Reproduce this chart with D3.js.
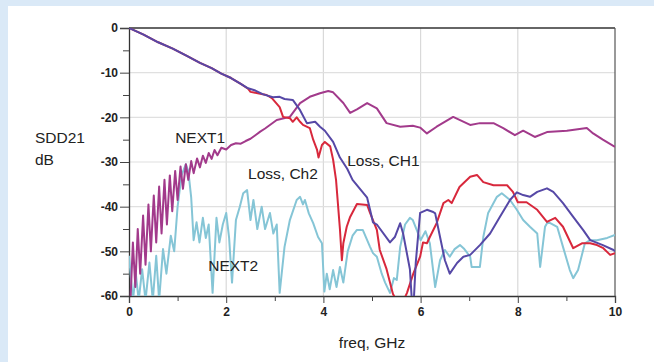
<!DOCTYPE html>
<html>
<head>
<meta charset="utf-8">
<script src="https://cdn.jsdelivr.net/npm/d3@7"></script>
<style>
  html, body { margin: 0; padding: 0; background: #dae9f7; }
  svg { display: block; font-family: "Liberation Sans", Arial, sans-serif; }
</style>
</head>
<body>
<svg id="chart" width="654" height="362"></svg>
<script>
// frequency (GHz), SDD21 (dB)
const lossCh1 = [
  [0, 0], [0.3, -1.5], [0.6, -3.2], [0.9, -4.6], [1.2, -6.3], [1.46, -7.8], [1.7, -9.0],
  [1.9, -10.2], [2.1, -11.2], [2.3, -12.5], [2.45, -13.5], [2.6, -14.0], [2.75, -14.8],
  [2.96, -15.5], [3.1, -15.4], [3.2, -15.9], [3.37, -16.1], [3.52, -18.4], [3.66, -21.3],
  [3.83, -21], [3.93, -22.1], [4.03, -23], [4.2, -25.5], [4.34, -29], [4.49, -31.5],
  [4.6, -34], [4.9, -38], [4.96, -40.7], [5.02, -43.5], [5.1, -44], [5.37, -48],
  [5.47, -46.8], [5.58, -43.7], [5.64, -46], [5.78, -54], [5.82, -61], [5.86, -61],
  [5.9, -52.6], [5.99, -41.4], [6.13, -40.7], [6.26, -41.2], [6.3, -41.5], [6.4, -46.8],
  [6.5, -52], [6.6, -55], [6.75, -52.6], [6.88, -51.2], [7.02, -50.8], [7.22, -48.6],
  [7.43, -46], [7.63, -42.3], [7.84, -38.5], [7.98, -36.8], [8.11, -37.4], [8.25, -37.8],
  [8.4, -36.7], [8.6, -35.9], [8.73, -36.7], [8.93, -39.2], [9.14, -42.3], [9.35, -45.3],
  [9.49, -47.5], [9.75, -48.6], [9.97, -49.7], [10, -50]
];

const lossCh2 = [
  [0, 0], [0.3, -1.5], [0.6, -3.2], [0.9, -4.6], [1.2, -6.3], [1.46, -7.8], [1.7, -9.0],
  [1.9, -10.2], [2.1, -11.2], [2.3, -12.5], [2.45, -13.6], [2.5, -14.3], [2.65, -14.6],
  [2.83, -15], [2.94, -15.7], [3.1, -17.7], [3.17, -19.9], [3.31, -20.2], [3.37, -21],
  [3.45, -20], [3.52, -21], [3.58, -21.7], [3.72, -22.4], [3.79, -25], [3.87, -27.3],
  [3.9, -29], [3.97, -26.2], [4.03, -25.5], [4.14, -26.5], [4.2, -29.5], [4.26, -34],
  [4.34, -45], [4.38, -52], [4.41, -48.2], [4.48, -44.5], [4.55, -42.3], [4.69, -39.4],
  [4.9, -39.6], [4.96, -41.4], [5.1, -45.2], [5.16, -49.7], [5.3, -54], [5.43, -59.5],
  [5.5, -61], [5.65, -61], [5.72, -59.3], [5.85, -55], [5.99, -51.2], [6.05, -48],
  [6.13, -48.2], [6.19, -46.8], [6.33, -43.7], [6.47, -39.2], [6.57, -38.5], [6.64, -39.2],
  [6.8, -35.6], [7.02, -33.3], [7.16, -32.9], [7.29, -34.5], [7.5, -35.2], [7.78, -35.2],
  [7.9, -36.7], [8.0, -39], [8.18, -39], [8.4, -40.7], [8.6, -43.4], [8.77, -42.5],
  [8.93, -44.5], [9.14, -49.3], [9.32, -48.2], [9.49, -48.2], [9.63, -48.6], [9.76, -49.3],
  [9.9, -50.8], [10, -50.4]
];

const next1 = [
  [0.03, -61], [0.08, -48], [0.13, -58], [0.18, -45], [0.23, -55], [0.29, -42], [0.34, -53],
  [0.40, -39.5], [0.45, -50], [0.51, -37.5], [0.56, -48], [0.62, -35.5], [0.67, -46],
  [0.73, -34], [0.78, -44], [0.84, -33], [0.89, -41], [0.95, -32], [1.0, -38.5], [1.06, -31],
  [1.11, -36], [1.17, -30.5], [1.22, -34], [1.28, -29.8], [1.33, -32.5], [1.40, -29.2],
  [1.46, -31.2], [1.52, -28.6], [1.58, -30.2], [1.64, -28], [1.70, -29.3], [1.76, -27.3],
  [1.82, -28.5], [1.9, -26.8], [2.0, -27.2], [2.1, -26.2], [2.2, -25.8], [2.3, -25.9],
  [2.4, -25.3], [2.5, -24.8], [2.6, -24], [2.7, -23.2], [2.8, -22.5], [3.04, -20.6],
  [3.31, -19.9], [3.52, -16.8], [3.72, -15.4], [3.93, -14.6], [4.1, -14.1], [4.2, -14.4],
  [4.41, -16.8], [4.55, -19], [4.69, -18.2], [4.9, -16.8], [5.1, -18], [5.3, -21.3],
  [5.58, -22.1], [5.84, -21.9], [5.99, -22.3], [6.13, -23.6], [6.33, -22.1], [6.67, -19.9],
  [7.02, -21.7], [7.22, -21.3], [7.5, -21.3], [7.7, -22.4], [7.94, -24], [8.11, -23],
  [8.35, -24.4], [8.6, -23.3], [9.01, -23], [9.42, -22.4], [9.55, -23.6], [9.75, -25],
  [10, -26.6]
];

const next2 = [
  [0.0, -51], [0.08, -61], [0.14, -55], [0.2, -61], [0.27, -54], [0.34, -61], [0.42, -52.5],
  [0.49, -61], [0.56, -51], [0.62, -61], [0.7, -49.5], [0.77, -55], [0.86, -46.5],
  [0.93, -50], [1.0, -40], [1.08, -33], [1.17, -30.5], [1.22, -32], [1.28, -38],
  [1.33, -47.5], [1.39, -43.5], [1.45, -48], [1.52, -42.5], [1.58, -47], [1.64, -44],
  [1.72, -59.3], [1.8, -42.5], [1.86, -48], [1.93, -44], [2.0, -41.4], [2.06, -47],
  [2.12, -57], [2.2, -43], [2.28, -40], [2.35, -37], [2.43, -36.3], [2.5, -43], [2.56, -38.5],
  [2.64, -45], [2.73, -40], [2.8, -45], [2.9, -41.4], [2.97, -46], [3.04, -44], [3.1, -59.3],
  [3.2, -49], [3.31, -43], [3.45, -38.5], [3.52, -37.8], [3.58, -39.5], [3.62, -38.5],
  [3.7, -41.5], [3.79, -43.7], [3.89, -46.8], [3.97, -48.2], [4.02, -59], [4.07, -55],
  [4.13, -58.5], [4.2, -54.2], [4.27, -58], [4.34, -53.5], [4.41, -57], [4.5, -50],
  [4.6, -46.5], [4.69, -45.2], [4.81, -45.2], [4.96, -49], [5.02, -50.4], [5.1, -51.2],
  [5.2, -55], [5.27, -57], [5.37, -59.3], [5.45, -56], [5.51, -56.4], [5.58, -49],
  [5.68, -44], [5.78, -42.5], [5.84, -43], [5.93, -45.5], [6.0, -47.5], [6.1, -45.5],
  [6.19, -48.2], [6.3, -58], [6.4, -52], [6.5, -49.7], [6.6, -51.2], [6.7, -49.5],
  [6.81, -48.6], [6.9, -49.5], [7.02, -51.2], [7.05, -53.5], [7.22, -53.5], [7.29, -46.8],
  [7.39, -41.4], [7.57, -37.8], [7.67, -37], [7.84, -38.5], [7.98, -40.7], [8.11, -43],
  [8.25, -44.5], [8.4, -46], [8.46, -53.5], [8.56, -44.5], [8.62, -43.4], [8.81, -44.5],
  [8.93, -49], [9.07, -54.2], [9.14, -56], [9.24, -54.2], [9.38, -48.2], [9.49, -47.5],
  [9.63, -47.5], [9.84, -47], [10, -46.3]
];

const series = [
  { name: 'NEXT2', data: next2, color: '#85c5d6' },
  { name: 'NEXT1', data: next1, color: '#a23a8b' },
  { name: 'Loss, Ch2', data: lossCh2, color: '#d8283c' },
  { name: 'Loss, CH1', data: lossCh1, color: '#5648a6' }
];

const xTicks = [0, 2, 4, 6, 8, 10];
const xMinorTicks = [1, 3, 5, 7, 9];
const yTicks = [0, -10, -20, -30, -40, -50, -60];
const yMinorTicks = [-5, -15, -25, -35, -45, -55];

const labels = [
  { text: 'NEXT1', f: 0.95, db: -25.7 },
  { text: 'Loss, Ch2', f: 2.45, db: -33.8 },
  { text: 'Loss, CH1', f: 4.49, db: -30.9 },
  { text: 'NEXT2', f: 1.63, db: -54.3 }
];

const svg = d3.select('#chart');
const margin = { left: 129, right: 39, top: 28, bottom: 66 };
const width = 654 - margin.left - margin.right;
const height = 362 - margin.top - margin.bottom;

// white panel
svg.append('rect')
  .attr('x', 8).attr('y', 6)
  .attr('width', 654 - 8).attr('height', 362 - 6)
  .attr('fill', '#ffffff');

const x = d3.scaleLinear().domain([0, 10]).range([0, width]);
const y = d3.scaleLinear().domain([-60, 0]).range([height, 0]);

const g = svg.append('g').attr('transform', `translate(${margin.left},${margin.top})`);

g.append('clipPath').attr('id', 'plot-clip')
  .append('rect').attr('width', width).attr('height', height);

// grid
g.append('g')
  .selectAll('line')
  .data(xTicks.slice(1, -1))
  .join('line')
  .attr('x1', d => x(d)).attr('x2', d => x(d))
  .attr('y1', 0).attr('y2', height)
  .attr('stroke', '#d9d9d9').attr('stroke-width', 1.2);

g.append('g')
  .selectAll('line')
  .data(yTicks.slice(1, -1))
  .join('line')
  .attr('x1', 0).attr('x2', width)
  .attr('y1', d => y(d)).attr('y2', d => y(d))
  .attr('stroke', '#e0e0e0').attr('stroke-width', 1.2);

// axes
const xAxis = g.append('g')
  .attr('transform', `translate(0,${height})`)
  .call(d3.axisBottom(x).tickValues(xTicks).tickSize(7).tickPadding(4).tickFormat(d3.format('d')));
g.append('g')
  .attr('transform', `translate(0,${height})`)
  .call(d3.axisBottom(x).tickValues(xMinorTicks).tickSize(5).tickFormat(''))
  .call(a => a.select('.domain').remove());

const yAxis = g.append('g')
  .call(d3.axisLeft(y).tickValues(yTicks).tickSize(9).tickPadding(2).tickFormat(d3.format('d')));
g.append('g')
  .call(d3.axisLeft(y).tickValues(yMinorTicks).tickSize(6).tickFormat(''))
  .call(a => a.select('.domain').remove());

svg.selectAll('.tick line').attr('stroke', '#444');
svg.selectAll('.domain').attr('stroke', '#333').attr('stroke-width', 1.3);
[xAxis, yAxis].forEach(a => a.selectAll('text')
  .attr('fill', '#222')
  .style('font-size', '12px')
  .style('font-weight', 'bold'));
yAxis.selectAll('text').text(d => d === 0 ? '0' : String(d));

// frame top/right
g.append('line').attr('x1', 0).attr('x2', width).attr('y1', 0).attr('y2', 0)
  .attr('stroke', '#333').attr('stroke-width', 1.3);
g.append('line').attr('x1', width).attr('x2', width).attr('y1', 0).attr('y2', height)
  .attr('stroke', '#555').attr('stroke-width', 1.2);

// series
const line = d3.line().x(d => x(d[0])).y(d => y(d[1]));
g.append('g').attr('clip-path', 'url(#plot-clip)')
  .selectAll('path')
  .data(series)
  .join('path')
  .attr('d', d => line(d.data))
  .attr('fill', 'none')
  .attr('stroke', d => d.color)
  .attr('stroke-width', 2)
  .attr('stroke-linejoin', 'round');

// in-plot labels
g.append('g')
  .selectAll('text')
  .data(labels)
  .join('text')
  .attr('x', d => x(d.f))
  .attr('y', d => y(d.db))
  .attr('fill', '#222')
  .style('font-size', '15.5px')
  .text(d => d.text);

// axis titles
svg.append('text')
  .attr('x', margin.left + width / 2).attr('y', 348)
  .attr('text-anchor', 'middle')
  .attr('fill', '#222')
  .style('font-size', '15.5px')
  .text('freq, GHz');

svg.append('text').attr('x', 35).attr('y', 143)
  .attr('fill', '#222').style('font-size', '15.5px').text('SDD21');
svg.append('text').attr('x', 35).attr('y', 165)
  .attr('fill', '#222').style('font-size', '15.5px').text('dB');
</script>
</body>
</html>
